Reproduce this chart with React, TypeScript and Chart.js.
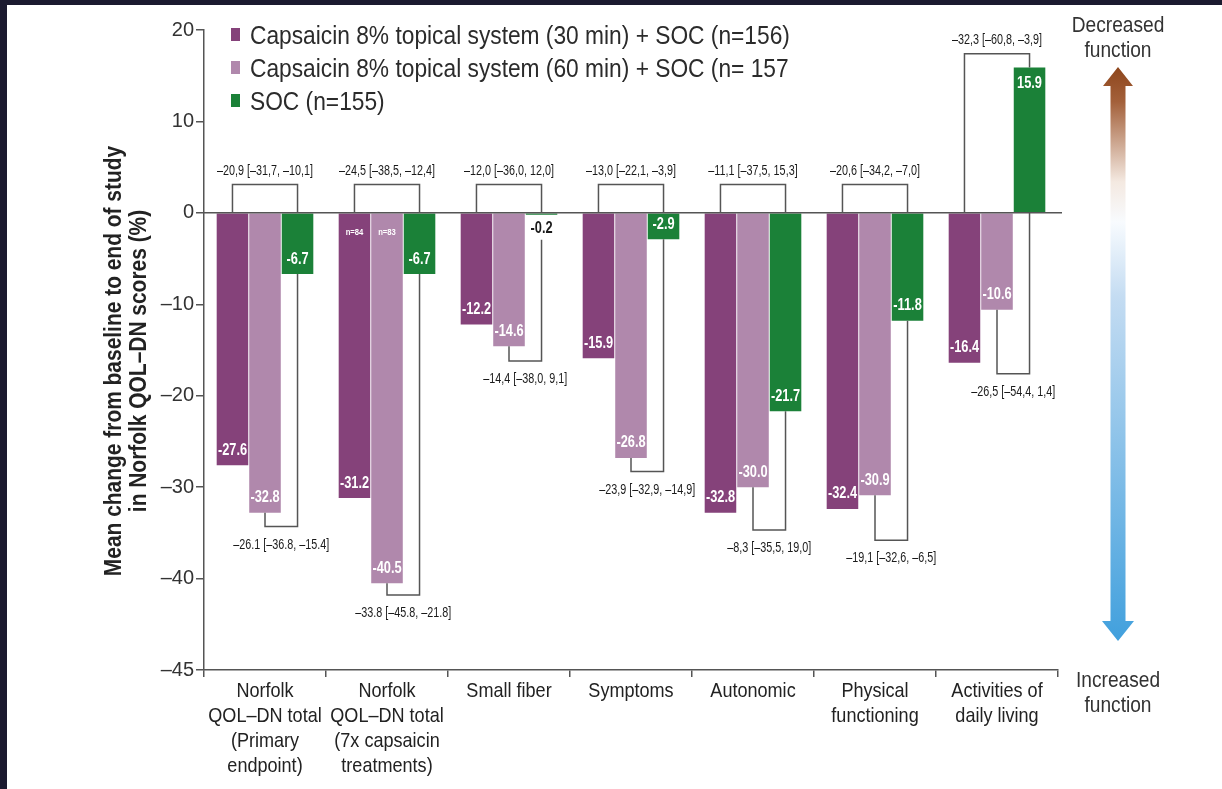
import React, { useEffect, useRef } from 'react';
import { Chart, registerables } from 'chart.js';

Chart.register(...registerables);

// ---------- data ----------
const categories: string[][] = [
  ['Norfolk', 'QOL–DN total', '(Primary', 'endpoint)'],
  ['Norfolk', 'QOL–DN total', '(7x capsaicin', 'treatments)'],
  ['Small fiber'],
  ['Symptoms'],
  ['Autonomic'],
  ['Physical', 'functioning'],
  ['Activities of', 'daily living'],
];

const seriesNames = [
  'Capsaicin 8% topical system (30 min) + SOC (n=156)',
  'Capsaicin 8% topical system (60 min) + SOC (n= 157',
  'SOC (n=155)',
];

const caps30 = [-27.6, -31.2, -12.2, -15.9, -32.8, -32.4, -16.4];
const caps60 = [-32.8, -40.5, -14.6, -26.8, -30.0, -30.9, -10.6];
const socOnly = [-6.7, -6.7, -0.2, -2.9, -21.7, -11.8, 15.9];

const caps30Notes = ['', 'n=84', '', '', '', '', ''];
const caps60Notes = ['', 'n=83', '', '', '', '', ''];

// difference vs SOC: 30-min (bracket above zero) and 60-min (bracket below bars)
const diff30Labels = [
  '–20,9 [–31,7, –10,1]',
  '–24,5 [–38,5, –12,4]',
  '–12,0 [–36,0, 12,0]',
  '–13,0 [–22,1, –3,9]',
  '–11,1 [–37,5, 15,3]',
  '–20,6 [–34,2, –7,0]',
  '–32,3 [–60,8, –3,9]',
];
const diff60Labels = [
  '–26.1 [–36.8, –15.4]',
  '–33.8 [–45.8, –21.8]',
  '–14,4 [–38,0, 9,1]',
  '–23,9 [–32,9, –14,9]',
  '–8,3 [–35,5, 19,0]',
  '–19,1 [–32,6, –6,5]',
  '–26,5 [–54,4, 1,4]',
];
const diff30Level = [3.1, 3.1, 3.1, 3.1, 3.1, 3.1, 17.4];
const diff60Level = [-34.3, -41.8, -16.2, -28.3, -34.7, -35.8, -17.6];

const yTickValues = [20, 10, 0, -10, -20, -30, -40, -50];
const yTickLabels = ['20', '10', '0', '–10', '–20', '–30', '–40', '–45'];

const yTitleLines = ['Mean change from baseline to end of study', 'in Norfolk QOL–DN scores (%)'];
const arrowTop = ['Decreased', 'function'];
const arrowBottom = ['Increased', 'function'];

// ---------- styles ----------
const COLORS = ['#85427a', '#b088ac', '#1b8138'];
const SANS = '"Liberation Sans", Arial, Helvetica, sans-serif';
const LINE = '#555555';

function drawText(
  ctx: CanvasRenderingContext2D,
  s: string,
  x: number,
  y: number,
  font: string,
  color: string,
  sx = 1,
  align: CanvasTextAlign = 'center',
  rot = 0
) {
  ctx.save();
  ctx.font = font;
  ctx.fillStyle = color;
  ctx.textAlign = align;
  ctx.textBaseline = 'middle';
  ctx.translate(x, y);
  if (rot) ctx.rotate(rot);
  ctx.scale(sx, 1);
  ctx.fillText(s, 0, 0);
  ctx.restore();
}

const backgroundPlugin = {
  id: 'pageBg',
  beforeDraw(chart: any) {
    const { ctx, width, height } = chart;
    ctx.save();
    ctx.fillStyle = '#1b1a2f';
    ctx.fillRect(0, 0, width, height);
    ctx.fillStyle = '#ffffff';
    ctx.fillRect(7, 5, width - 7, height - 5);
    ctx.restore();
  },
};

const overlayPlugin = {
  id: 'overlay',
  afterDatasetsDraw(chart: any) {
    const { ctx, chartArea } = chart;
    const yS = chart.scales.y;
    const y0 = yS.getPixelForValue(0);
    const m30 = chart.getDatasetMeta(0).data;
    const m60 = chart.getDatasetMeta(1).data;
    const mS = chart.getDatasetMeta(2).data;

    // zero line
    ctx.save();
    ctx.strokeStyle = LINE;
    ctx.lineWidth = 1.5;
    ctx.beginPath();
    ctx.moveTo(chartArea.left, y0);
    ctx.lineTo(chartArea.right + 4, y0);
    ctx.stroke();
    ctx.restore();

    // value labels
    const series = [caps30, caps60, socOnly];
    series.forEach((vals, di) => {
      const els = chart.getDatasetMeta(di).data;
      vals.forEach((v, i) => {
        const el = els[i];
        const label = v.toFixed(1);
        if (Math.abs(v) >= 2) {
          const y = v < 0 ? el.y - 15 : el.y + 16;
          drawText(ctx, label, el.x, y, `bold 16px ${SANS}`, '#ffffff', 0.8);
        } else {
          drawText(ctx, label, el.x, el.y + 14, `bold 16px ${SANS}`, '#1a1a1a', 0.8);
        }
      });
    });

    // n notes
    [caps30Notes, caps60Notes].forEach((notes, di) => {
      const els = chart.getDatasetMeta(di).data;
      notes.forEach((n, i) => {
        if (!n) return;
        drawText(ctx, n, els[i].x, y0 + 20, `bold 9px ${SANS}`, '#ffffff', 0.85);
      });
    });

    // brackets
    ctx.save();
    ctx.strokeStyle = LINE;
    ctx.lineWidth = 1.5;
    for (let i = 0; i < categories.length; i++) {
      const xa = m30[i].x;
      const xb = m60[i].x;
      const xs = mS[i].x;
      // top bracket (30 min vs SOC)
      const yT = yS.getPixelForValue(diff30Level[i]);
      const ySocTop = yS.getPixelForValue(Math.max(0, socOnly[i]));
      ctx.beginPath();
      ctx.moveTo(xa, y0);
      ctx.lineTo(xa, yT);
      ctx.lineTo(xs, yT);
      ctx.lineTo(xs, ySocTop);
      ctx.stroke();
      drawText(ctx, diff30Labels[i], (xa + xs) / 2, yT - 14, `15px ${SANS}`, '#1a1a1a', 0.72);

      // bottom bracket (60 min vs SOC)
      const yB = yS.getPixelForValue(diff60Level[i]);
      const y60 = yS.getPixelForValue(caps60[i]);
      let ySocBot = y0;
      if (socOnly[i] < 0) {
        ySocBot = yS.getPixelForValue(socOnly[i]);
        if (Math.abs(socOnly[i]) < 2) ySocBot += 25;
      }
      ctx.beginPath();
      ctx.moveTo(xb, y60);
      ctx.lineTo(xb, yB);
      ctx.lineTo(xs, yB);
      ctx.lineTo(xs, ySocBot);
      ctx.stroke();
      drawText(ctx, diff60Labels[i], (xb + xs) / 2, yB + 18, `15px ${SANS}`, '#1a1a1a', 0.72);
    }
    ctx.restore();
  },
  afterDraw(chart: any) {
    const { ctx, chartArea } = chart;
    const xS = chart.scales.x;

    // category labels (condensed), positioned by the category scale
    categories.forEach((lines, i) => {
      const cx = xS.getPixelForValue(i);
      lines.forEach((s, k) => {
        drawText(ctx, s, cx, chartArea.bottom + 21 + k * 25, `21px ${SANS}`, '#222222', 0.86);
      });
    });

    // legend
    chart.data.datasets.forEach((ds: any, i: number) => {
      const cy = 35 + i * 33;
      const x = chartArea.left + 27;
      ctx.save();
      ctx.fillStyle = ds.backgroundColor;
      ctx.fillRect(x, cy - 7, 9, 13);
      ctx.restore();
      drawText(ctx, ds.label, x + 19, cy + 2, `25px ${SANS}`, '#2b2b2b', 0.91, 'left');
    });

    // y title
    const tx = 115;
    const ty = (chartArea.top + chartArea.bottom) / 2 + 11;
    yTitleLines.forEach((line, i) => {
      drawText(ctx, line, tx + i * 25, ty, `bold 23px ${SANS}`, '#222222', 0.91, 'center', -Math.PI / 2);
    });

    // right arrow
    const cx = chartArea.right + 60;
    const top = 67;
    const bot = 641;
    const g = ctx.createLinearGradient(0, top, 0, bot);
    g.addColorStop(0, '#8e461c');
    g.addColorStop(0.06, '#a3603a');
    g.addColorStop(0.2, '#f4e9e1');
    g.addColorStop(0.27, '#f8fbfe');
    g.addColorStop(0.4, '#c4dcf2');
    g.addColorStop(1, '#41a0dd');
    ctx.save();
    ctx.fillStyle = g;
    ctx.beginPath();
    ctx.moveTo(cx, top);
    ctx.lineTo(cx + 15, top + 19);
    ctx.lineTo(cx + 7.5, top + 19);
    ctx.lineTo(cx + 7.5, bot - 20);
    ctx.lineTo(cx + 16, bot - 20);
    ctx.lineTo(cx, bot);
    ctx.lineTo(cx - 16, bot - 20);
    ctx.lineTo(cx - 7.5, bot - 20);
    ctx.lineTo(cx - 7.5, top + 19);
    ctx.lineTo(cx - 15, top + 19);
    ctx.closePath();
    ctx.fill();
    ctx.restore();
    arrowTop.forEach((s, i) => drawText(ctx, s, cx, 26 + i * 25, `22px ${SANS}`, '#333333', 0.87));
    arrowBottom.forEach((s, i) => drawText(ctx, s, cx, 681 + i * 25, `22px ${SANS}`, '#333333', 0.87));
  },
};

export default function App() {
  const ref = useRef<HTMLCanvasElement>(null);

  useEffect(() => {
    document.body.style.margin = '0';
    const canvas = ref.current;
    if (!canvas) return;
    const chart = new Chart(canvas, {
      type: 'bar',
      data: {
        labels: categories.map((c) => c.join(' ')),
        datasets: [caps30, caps60, socOnly].map((d, i) => ({
          label: seriesNames[i],
          data: d,
          backgroundColor: COLORS[i],
          borderWidth: 0,
          barPercentage: 0.97,
          categoryPercentage: 0.8,
        })),
      },
      options: {
        animation: false,
        responsive: false,
        devicePixelRatio: 1,
        layout: { padding: { left: 0, top: 30, right: 164, bottom: 0 } },
        plugins: { legend: { display: false }, tooltip: { enabled: false }, title: { display: false } },
        scales: {
          x: {
            grid: { display: true, drawOnChartArea: false, drawTicks: true, tickLength: 7, color: LINE, lineWidth: 1.5, offset: true },
            border: { display: true, color: LINE, width: 1.5 },
            ticks: { display: false, autoSkip: false },
            afterFit: (s: any) => {
              s.height = 119;
            },
          },
          y: {
            min: -50,
            max: 20,
            afterBuildTicks: (s: any) => {
              s.ticks = yTickValues.map((v) => ({ value: v }));
            },
            ticks: {
              callback: (_v: any, i: number) => yTickLabels[i],
              font: { family: SANS, size: 20 },
              color: '#333333',
              padding: 2,
            },
            grid: { display: true, drawOnChartArea: false, drawTicks: true, tickLength: 8, color: LINE, lineWidth: 1.5 },
            border: { display: true, color: LINE, width: 1.5 },
            afterFit: (s: any) => {
              s.width = 204;
            },
          },
        },
      },
      plugins: [backgroundPlugin, overlayPlugin],
    });
    return () => chart.destroy();
  }, []);

  return (
    <div style={{ width: 1222, height: 789, overflow: 'hidden' }}>
      <canvas ref={ref} width={1222} height={789} style={{ display: 'block', width: 1222, height: 789 }} />
    </div>
  );
}
